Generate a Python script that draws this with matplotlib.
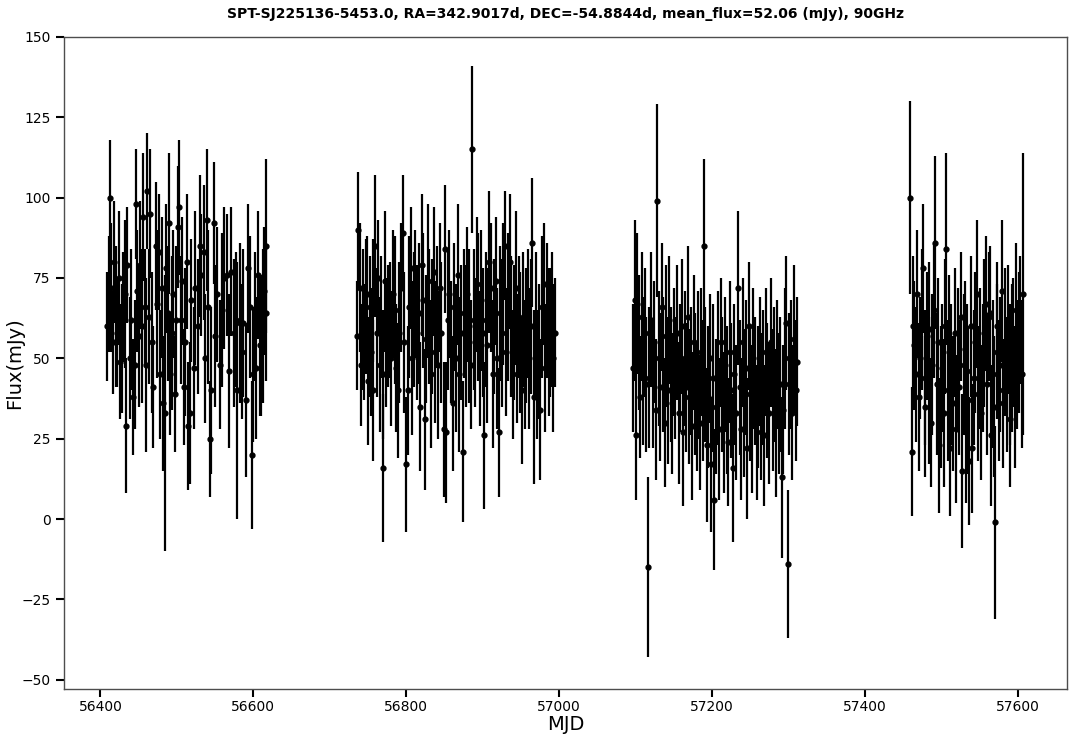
import numpy as np
import matplotlib
matplotlib.use('Agg')
import matplotlib.pyplot as plt

# light curve values, one block per observing season

s1_mjd = [56409, 56411, 56412, 56414, 56416, 56418, 56420, 56422, 56424, 56426,
          56428, 56430, 56432, 56434, 56435, 56438, 56440, 56443, 56445, 56446,
          56448, 56450, 56452, 56454, 56456, 56458, 56460, 56461, 56463, 56465,
          56467, 56469, 56472, 56474, 56476, 56478, 56480, 56482, 56484, 56486,
          56488, 56489, 56491, 56493, 56495, 56497, 56499, 56501, 56503, 56505,
          56507, 56509, 56511, 56513, 56515, 56517, 56519, 56522, 56524, 56527,
          56530, 56532, 56535, 56537, 56539, 56541, 56543, 56545, 56548, 56550,
          56553, 56556, 56559, 56562, 56565, 56568, 56571, 56574, 56577, 56579,
          56582, 56585, 56587, 56590, 56593, 56596, 56598, 56600, 56602, 56604,
          56606, 56608, 56610, 56612, 56614, 56616, 56617]
s1_flux = [60, 70, 100, 72, 55, 80, 63, 58, 75, 49,
           53, 66, 70, 29, 79, 50, 62, 38, 48, 98,
           71, 57, 79, 60, 94, 66, 48, 102, 63, 95,
           55, 41, 85, 67, 83, 45, 72, 36, 33, 78,
           64, 92, 45, 58, 70, 39, 62, 91, 97, 62,
           74, 41, 55, 80, 29, 33, 68, 47, 72, 60,
           85, 76, 83, 50, 93, 66, 25, 40, 92, 57,
           70, 48, 65, 75, 76, 46, 77, 58, 62, 40,
           61, 52, 61, 37, 78, 66, 20, 45, 63, 47,
           76, 54, 54, 60, 71, 64, 85]
s1_err = [17, 18, 18, 20, 16, 19, 22, 17, 21, 18,
          20, 17, 23, 21, 18, 19, 22, 18, 20, 17,
          19, 22, 20, 24, 20, 18, 27, 18, 21, 20,
          22, 19, 20, 23, 18, 20, 22, 21, 43, 20,
          21, 22, 19, 24, 20, 18, 23, 19, 21, 20,
          20, 18, 23, 21, 20, 22, 19, 19, 24, 21,
          22, 19, 21, 20, 22, 24, 18, 26, 19, 22,
          21, 20, 24, 22, 19, 24, 20, 23, 21, 40,
          25, 21, 23, 24, 20, 22, 23, 21, 20, 22,
          20, 22, 22, 24, 20, 21, 27]

s2_mjd = [56735, 56737, 56739, 56741, 56743, 56745, 56747, 56748, 56750, 56752,
          56754, 56756, 56757, 56759, 56761, 56763, 56765, 56767, 56769, 56770,
          56772, 56774, 56776, 56778, 56780, 56782, 56785, 56787, 56789, 56791,
          56793, 56795, 56797, 56800, 56802, 56804, 56806, 56808, 56810, 56812,
          56814, 56816, 56818, 56820, 56822, 56824, 56826, 56828, 56830, 56832,
          56834, 56836, 56838, 56840, 56842, 56844, 56846, 56849, 56851, 56852,
          56854, 56856, 56858, 56861, 56863, 56865, 56867, 56869, 56871, 56874,
          56876, 56878, 56880, 56882, 56884, 56886, 56888, 56890, 56892, 56894,
          56896, 56898, 56900, 56902, 56904, 56906, 56908, 56911, 56913, 56915,
          56917, 56919, 56921, 56923, 56925, 56927, 56929, 56931, 56933, 56935,
          56937, 56939, 56941, 56943, 56945, 56947, 56949, 56951, 56953, 56955,
          56957, 56959, 56961, 56963, 56965, 56967, 56969, 56971, 56973, 56975,
          56977, 56980, 56982, 56984, 56986, 56988, 56990, 56992, 56994]
s2_flux = [57, 90, 72, 48, 62, 55, 66, 70, 43, 60,
           52, 68, 40, 85, 58, 75, 48, 63, 45, 16,
           74, 55, 60, 62, 50, 70, 65, 47, 40, 58,
           72, 89, 55, 17, 40, 66, 78, 50, 62, 70,
           58, 64, 35, 79, 68, 31, 56, 74, 63, 45,
           60, 77, 52, 66, 48, 72, 58, 28, 84, 27,
           62, 70, 55, 36, 66, 50, 76, 45, 58, 21,
           64, 57, 70, 60, 48, 115, 62, 55, 73, 66,
           50, 68, 58, 26, 62, 54, 80, 72, 45, 60,
           74, 50, 27, 64, 58, 70, 85, 52, 66, 80,
           60, 45, 58, 72, 50, 63, 55, 40, 62, 48,
           57, 64, 50, 60, 86, 38, 60, 45, 52, 34,
           66, 73, 47, 65, 55, 58, 62, 50, 58]
s2_err = [17, 18, 20, 19, 22, 18, 21, 18, 20, 22,
          20, 19, 22, 22, 20, 18, 21, 19, 20, 23,
          22, 20, 19, 18, 21, 20, 23, 20, 21, 22,
          20, 18, 22, 21, 20, 22, 19, 24, 21, 20,
          21, 22, 20, 22, 21, 22, 20, 24, 21, 23,
          21, 20, 22, 19, 23, 20, 22, 21, 20, 22,
          22, 20, 19, 21, 20, 23, 22, 24, 21, 22,
          20, 22, 21, 24, 20, 26, 22, 20, 21, 23,
          21, 22, 20, 23, 21, 24, 22, 20, 23, 21,
          20, 22, 20, 21, 23, 22, 17, 20, 23, 21,
          22, 20, 21, 24, 20, 19, 22, 23, 21, 20,
          21, 20, 22, 21, 20, 27, 23, 20, 21, 22,
          22, 19, 20, 21, 23, 20, 21, 23, 17]

s3_mjd = [57097, 57099, 57100, 57102, 57104, 57106, 57108, 57110, 57112, 57114,
          57116, 57118, 57120, 57122, 57124, 57126, 57128, 57130, 57132, 57134,
          57136, 57138, 57140, 57142, 57144, 57146, 57148, 57150, 57152, 57154,
          57156, 57158, 57160, 57162, 57164, 57166, 57168, 57170, 57172, 57174,
          57176, 57178, 57180, 57182, 57184, 57186, 57188, 57189, 57191, 57193,
          57195, 57197, 57199, 57201, 57203, 57205, 57207, 57209, 57211, 57213,
          57215, 57217, 57219, 57221, 57223, 57225, 57227, 57229, 57231, 57234,
          57236, 57238, 57240, 57242, 57244, 57246, 57248, 57250, 57252, 57254,
          57256, 57258, 57260, 57262, 57264, 57266, 57268, 57270, 57272, 57274,
          57277, 57279, 57281, 57283, 57285, 57287, 57289, 57291, 57293, 57295,
          57297, 57299, 57301, 57303, 57305, 57307, 57309, 57311]
s3_flux = [47, 68, 26, 67, 55, 38, 63, 46, 58, 42,
           -15, 44, 62, 42, 55, 34, 99, 50, 41, 66,
           48, 30, 57, 40, 62, 45, 36, 52, 44, 58,
           33, 47, 60, 27, 50, 41, 63, 38, 46, 29,
           55, 42, 35, 48, 30, 52, 40, 85, 45, 23,
           38, 50, 17, 44, 6, 35, 47, 28, 55, 42,
           30, 48, 37, 24, 52, 40, 16, 45, 33, 72,
           41, 28, 55, 36, 47, 22, 60, 39, 31, 50,
           43, 27, 38, 49, 35, 44, 26, 52, 40, 33,
           55, 37, 45, 30, 48, 36, 42, 13, 34, 50,
           61, -14, 42, 48, 33, 56, 40, 49]
s3_err = [20, 25, 20, 22, 21, 19, 20, 23, 20, 21,
          28, 22, 21, 20, 19, 22, 30, 21, 23, 20,
          21, 20, 22, 23, 20, 21, 22, 20, 19, 21,
          22, 20, 21, 23, 21, 20, 22, 21, 20, 23,
          21, 22, 20, 23, 21, 20, 22, 27, 21, 24,
          22, 20, 21, 23, 22, 21, 24, 22, 20, 21,
          22, 21, 23, 20, 22, 21, 23, 22, 21, 24,
          21, 22, 20, 23, 21, 22, 20, 21, 23, 22,
          20, 21, 22, 20, 23, 21, 22, 20, 21, 22,
          20, 22, 21, 23, 20, 22, 21, 25, 20, 22,
          21, 23, 22, 20, 21, 23, 22, 20]

s4_mjd = [57459, 57461, 57463, 57464, 57466, 57468, 57470, 57472, 57474, 57476,
          57478, 57479, 57481, 57483, 57484, 57486, 57488, 57490, 57492, 57494,
          57496, 57497, 57499, 57501, 57503, 57505, 57506, 57508, 57510, 57511,
          57513, 57515, 57517, 57519, 57521, 57523, 57525, 57527, 57529, 57531,
          57532, 57533, 57535, 57536, 57538, 57540, 57542, 57544, 57546, 57548,
          57550, 57552, 57554, 57556, 57558, 57560, 57562, 57563, 57565, 57567,
          57569, 57570, 57572, 57573, 57575, 57577, 57579, 57581, 57583, 57585,
          57587, 57589, 57590, 57592, 57594, 57596, 57597, 57599, 57601, 57603,
          57605, 57606]
s4_flux = [100, 21, 60, 54, 45, 70, 38, 50, 62, 78,
           44, 35, 57, 40, 59, 30, 48, 65, 86, 42,
           55, 23, 38, 47, 33, 60, 84, 40, 52, 22,
           45, 36, 58, 28, 50, 41, 63, 15, 48, 53,
           27, 46, 37, 18, 60, 22, 44, 55, 70, 39,
           50, 33, 47, 58, 67, 42, 63, 64, 26, 45,
           35, -1, 60, 52, 40, 48, 71, 36, 55, 42,
           59, 45, 31, 50, 55, 38, 65, 48, 55, 62,
           45, 70]
s4_err = [30, 20, 22, 20, 21, 20, 23, 19, 22, 20,
          21, 22, 20, 23, 21, 20, 22, 21, 27, 22,
          20, 21, 22, 20, 23, 21, 30, 22, 24, 21,
          22, 21, 20, 23, 22, 21, 20, 24, 22, 21,
          22, 21, 23, 20, 22, 20, 21, 22, 23, 21,
          22, 21, 20, 23, 21, 22, 20, 21, 22, 23,
          22, 30, 20, 21, 22, 21, 22, 20, 23, 21,
          20, 22, 21, 23, 20, 22, 21, 20, 22, 20,
          23, 44]

title = 'SPT-SJ225136-5453.0, RA=342.9017d, DEC=-54.8844d, mean_flux=52.06 (mJy), 90GHz'

mjd = np.array(s1_mjd + s2_mjd + s3_mjd + s4_mjd)
flux = np.array(s1_flux + s2_flux + s3_flux + s4_flux)
err = np.array(s1_err + s2_err + s3_err + s4_err)

fig = plt.figure(figsize=(10.81, 7.39), dpi=100)
ax = fig.add_axes([0.059, 0.068, 0.928, 0.882])

ax.errorbar(mjd, flux, yerr=err, fmt='o', color='k', ecolor='k',
            markersize=3.5, elinewidth=1.6, capsize=0)

ax.set_xlim(56352, 57664)
ax.set_ylim(-52.8, 150)
ax.set_xticks([56400, 56600, 56800, 57000, 57200, 57400, 57600])
ax.set_yticks([-50, -25, 0, 25, 50, 75, 100, 125, 150])

ax.set_xlabel('MJD', fontsize=14, labelpad=1)
ax.set_ylabel('Flux(mJy)', fontsize=14)
ax.yaxis.set_label_coords(-0.040, 0.5)
ax.set_title(title, fontsize=10, fontweight='bold', pad=14)

ax.tick_params(axis='both', direction='out', length=6, width=1.5, labelsize=10)
ax.tick_params(axis='x', pad=2)
for sp in ax.spines.values():
    sp.set_color('0.3')
    sp.set_linewidth(1)

fig.savefig('out.png', dpi=100)
